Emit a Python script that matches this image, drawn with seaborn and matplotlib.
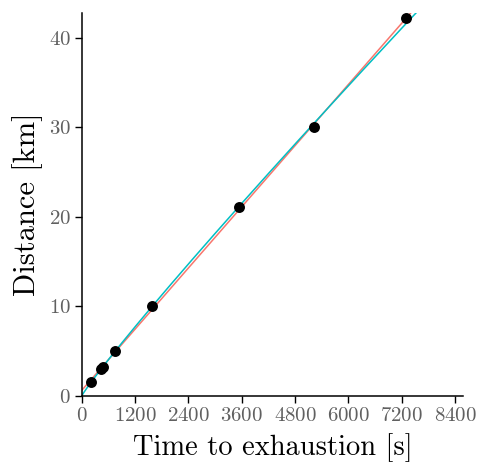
import numpy as np
import pandas as pd
import seaborn as sns
import matplotlib.pyplot as plt

# world-record style efforts: distance [km] vs time to exhaustion [s]
distance_km = [1.5, 3.0, 3.219, 5.0, 10.0, 21.0975, 30.0, 42.195]
time_s = [206, 440, 471, 755, 1577, 3540, 5215, 7299]
x_ticks = [0, 1200, 2400, 3600, 4800, 6000, 7200, 8400]
y_ticks = [0, 10, 20, 30, 40]

sns.set_theme(style="ticks")
plt.rcParams["font.family"] = ["cmr10", "DejaVu Serif"]
plt.rcParams["axes.formatter.use_mathtext"] = True
plt.rcParams["mathtext.fontset"] = "cm"

df = pd.DataFrame({"t": time_s, "d": distance_km})

# linear model and power-law model fitted to the points
b, a = np.polyfit(df.t, df.d, 1)
k, lnc = np.polyfit(np.log(df.t), np.log(df.d), 1)
t_grid = np.linspace(1, 8600, 400)
fits = pd.DataFrame({
    "t": np.concatenate([t_grid, t_grid]),
    "d": np.concatenate([a + b * t_grid, np.exp(lnc) * t_grid ** k]),
    "model": ["linear"] * len(t_grid) + ["power"] * len(t_grid),
})

fig = plt.figure(figsize=(4.78, 4.69), dpi=100)
ax = fig.add_axes([0.171, 0.156, 0.798, 0.817])

sns.lineplot(data=fits, x="t", y="d", hue="model",
             palette=["#F8766D", "#00BFC4"], linewidth=1.1,
             legend=False, ax=ax)
sns.scatterplot(data=df, x="t", y="d", color="black", s=62,
                edgecolor="black", linewidth=0, zorder=3, ax=ax)

ax.set_xlim(0, 8580)
ax.set_ylim(0, 42.8)
ax.set_xticks(x_ticks)
ax.set_yticks(y_ticks)
ax.set_xlabel("Time to exhaustion [s]", fontsize=20.5, color="black", labelpad=6)
ax.set_ylabel("Distance [km]", fontsize=22, color="black", labelpad=4)
ax.tick_params(axis="both", labelsize=15, labelcolor="#606060",
               colors="black", length=5, width=1, pad=3)
for s in ["left", "bottom"]:
    ax.spines[s].set_linewidth(1.1)
    ax.spines[s].set_color("black")
sns.despine(ax=ax)

fig.savefig("out.png", dpi=100)
